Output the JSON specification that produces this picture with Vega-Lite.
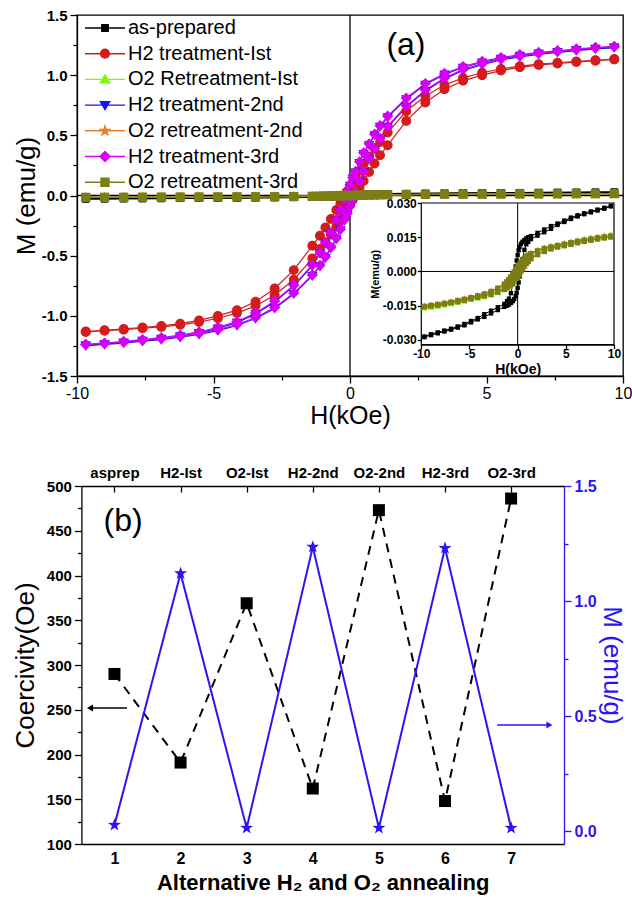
{
"$schema": "https://vega.github.io/schema/vega-lite/v6.json",
"padding": {"left": 12, "top": 7, "right": 2, "bottom": 2},
"background": "white",
"config": {
 "font": "Liberation Sans",
 "locale": {"number": {"decimal": ".", "thousands": ",", "grouping": [3], "currency": ["$", ""], "minus": "-"}},
 "view": {"stroke": "black", "strokeWidth": 1.3},
 "axis": {"grid": false, "labelFlush": false, "labelOverlap": false, "domainColor": "black", "tickColor": "black", "labelColor": "black", "titleColor": "black", "domainWidth": 1.3, "tickWidth": 1.3, "titleFontWeight": "normal", "labelFont": "Liberation Sans", "titleFont": "Liberation Sans"},
 "legend": {"labelFont": "Liberation Sans"}
},
"datasets": {
 "series": [{"s": "as-prepared"}, {"s": "H2 treatment-Ist"}, {"s": "O2 Retreatment-Ist"}, {"s": "H2 treatment-2nd"}, {"s": "O2 retreatment-2nd"}, {"s": "H2 treatment-3rd"}, {"s": "O2 retreatment-3rd"}],
 "bdat": [
  {"i": 1, "hc": 290, "m": 0.026}, {"i": 2, "hc": 191, "m": 1.12}, {"i": 3, "hc": 369, "m": 0.013}, {"i": 4, "hc": 162, "m": 1.235}, {"i": 5, "hc": 473, "m": 0.013}, {"i": 6, "hc": 148, "m": 1.23}, {"i": 7, "hc": 486, "m": 0.013}
 ],
 "loops": [
  {"h": -9.68, "b": "d", "s1": -0.0285, "s2": -1.130, "s3": -0.0159, "s4": -1.245, "s5": -0.0149, "s6": -1.237, "s7": -0.0153},
  {"h": -8.99, "b": "d", "s1": -0.0275, "s2": -1.120, "s3": -0.0155, "s4": -1.234, "s5": -0.0145, "s6": -1.226, "s7": -0.0149},
  {"h": -8.29, "b": "d", "s1": -0.0267, "s2": -1.109, "s3": -0.0151, "s4": -1.220, "s5": -0.0141, "s6": -1.212, "s7": -0.0145},
  {"h": -7.6, "b": "d", "s1": -0.0259, "s2": -1.097, "s3": -0.0146, "s4": -1.205, "s5": -0.0136, "s6": -1.197, "s7": -0.0140},
  {"h": -6.91, "b": "d", "s1": -0.0251, "s2": -1.084, "s3": -0.0140, "s4": -1.189, "s5": -0.0131, "s6": -1.181, "s7": -0.0135},
  {"h": -6.22, "b": "d", "s1": -0.0241, "s2": -1.065, "s3": -0.0133, "s4": -1.168, "s5": -0.0124, "s6": -1.160, "s7": -0.0128},
  {"h": -5.53, "b": "d", "s1": -0.0230, "s2": -1.038, "s3": -0.0127, "s4": -1.142, "s5": -0.0118, "s6": -1.134, "s7": -0.0122},
  {"h": -4.84, "b": "d", "s1": -0.0217, "s2": -1.000, "s3": -0.0120, "s4": -1.103, "s5": -0.0111, "s6": -1.095, "s7": -0.0115},
  {"h": -4.14, "b": "d", "s1": -0.0204, "s2": -0.953, "s3": -0.0111, "s4": -1.056, "s5": -0.0103, "s6": -1.048, "s7": -0.0107},
  {"h": -3.46, "b": "d", "s1": -0.0187, "s2": -0.882, "s3": -0.0103, "s4": -0.984, "s5": -0.0095, "s6": -0.976, "s7": -0.0099},
  {"h": -2.76, "b": "d", "s1": -0.0172, "s2": -0.773, "s3": -0.0092, "s4": -0.885, "s5": -0.0084, "s6": -0.877, "s7": -0.0088},
  {"h": -2.06, "b": "d", "s1": -0.0157, "s2": -0.620, "s3": -0.0077, "s4": -0.753, "s5": -0.0070, "s6": -0.745, "s7": -0.0074},
  {"h": -1.38, "b": "d", "s1": -0.0142, "s2": -0.417, "s3": -0.0058, "s4": -0.585, "s5": -0.0052, "s6": -0.577, "s7": -0.0056},
  {"h": -1.1, "b": "d", "s1": -0.0130, "s2": -0.335, "s3": -0.0047, "s4": -0.483, "s5": -0.0041, "s6": -0.475, "s7": -0.0045},
  {"h": -0.9, "b": "d", "s1": -0.0119, "s2": -0.265, "s3": -0.0036, "s4": -0.398, "s5": -0.0031, "s6": -0.390, "s7": -0.0035},
  {"h": -0.7, "b": "d", "s1": -0.0095, "s2": -0.195, "s3": -0.0025, "s4": -0.318, "s5": -0.0020, "s6": -0.310, "s7": -0.0024},
  {"h": -0.5, "b": "d", "s1": -0.0053, "s2": -0.120, "s3": -0.0012, "s4": -0.208, "s5": -0.0008, "s6": -0.200, "s7": -0.0012},
  {"h": -0.35, "b": "d", "s1": -0.0015, "s2": -0.065, "s3": -0.0003, "s4": -0.128, "s5": 0.0001, "s6": -0.120, "s7": -0.0003},
  {"h": -0.2, "b": "d", "s1": 0.0022, "s2": -0.005, "s3": 0.0006, "s4": -0.038, "s5": 0.0010, "s6": -0.030, "s7": 0.0006},
  {"h": -0.1, "b": "d", "s1": 0.0048, "s2": 0.035, "s3": 0.0012, "s4": 0.022, "s5": 0.0016, "s6": 0.030, "s7": 0.0012},
  {"h": 0, "b": "d", "s1": 0.0072, "s2": 0.072, "s3": 0.0019, "s4": 0.082, "s5": 0.0022, "s6": 0.090, "s7": 0.0018},
  {"h": 0.1, "b": "d", "s1": 0.0093, "s2": 0.110, "s3": 0.0026, "s4": 0.142, "s5": 0.0029, "s6": 0.150, "s7": 0.0025},
  {"h": 0.2, "b": "d", "s1": 0.0108, "s2": 0.150, "s3": 0.0032, "s4": 0.192, "s5": 0.0035, "s6": 0.200, "s7": 0.0031},
  {"h": 0.35, "b": "d", "s1": 0.0121, "s2": 0.205, "s3": 0.0041, "s4": 0.272, "s5": 0.0043, "s6": 0.280, "s7": 0.0039},
  {"h": 0.5, "b": "d", "s1": 0.0130, "s2": 0.260, "s3": 0.0049, "s4": 0.347, "s5": 0.0051, "s6": 0.355, "s7": 0.0047},
  {"h": 0.7, "b": "d", "s1": 0.0138, "s2": 0.325, "s3": 0.0058, "s4": 0.422, "s5": 0.0060, "s6": 0.430, "s7": 0.0056},
  {"h": 0.9, "b": "d", "s1": 0.0145, "s2": 0.390, "s3": 0.0067, "s4": 0.502, "s5": 0.0068, "s6": 0.510, "s7": 0.0064},
  {"h": 1.1, "b": "d", "s1": 0.0150, "s2": 0.445, "s3": 0.0074, "s4": 0.572, "s5": 0.0075, "s6": 0.580, "s7": 0.0071},
  {"h": 1.38, "b": "d", "s1": 0.0155, "s2": 0.523, "s3": 0.0081, "s4": 0.652, "s5": 0.0082, "s6": 0.660, "s7": 0.0078},
  {"h": 2.06, "b": "d", "s1": 0.0169, "s2": 0.700, "s3": 0.0094, "s4": 0.802, "s5": 0.0094, "s6": 0.810, "s7": 0.0090},
  {"h": 2.76, "b": "d", "s1": 0.0184, "s2": 0.827, "s3": 0.0104, "s4": 0.922, "s5": 0.0104, "s6": 0.930, "s7": 0.0100},
  {"h": 3.46, "b": "d", "s1": 0.0199, "s2": 0.918, "s3": 0.0111, "s4": 1.006, "s5": 0.0111, "s6": 1.014, "s7": 0.0107},
  {"h": 4.14, "b": "d", "s1": 0.0210, "s2": 0.977, "s3": 0.0118, "s4": 1.064, "s5": 0.0117, "s6": 1.072, "s7": 0.0113},
  {"h": 4.84, "b": "d", "s1": 0.0223, "s2": 1.020, "s3": 0.0124, "s4": 1.107, "s5": 0.0123, "s6": 1.115, "s7": 0.0119},
  {"h": 5.53, "b": "d", "s1": 0.0236, "s2": 1.052, "s3": 0.0131, "s4": 1.138, "s5": 0.0130, "s6": 1.146, "s7": 0.0126},
  {"h": 6.22, "b": "d", "s1": 0.0246, "s2": 1.075, "s3": 0.0137, "s4": 1.162, "s5": 0.0136, "s6": 1.170, "s7": 0.0132},
  {"h": 6.91, "b": "d", "s1": 0.0255, "s2": 1.092, "s3": 0.0142, "s4": 1.181, "s5": 0.0141, "s6": 1.189, "s7": 0.0137},
  {"h": 7.6, "b": "d", "s1": 0.0263, "s2": 1.103, "s3": 0.0148, "s4": 1.195, "s5": 0.0146, "s6": 1.203, "s7": 0.0142},
  {"h": 8.29, "b": "d", "s1": 0.0271, "s2": 1.115, "s3": 0.0153, "s4": 1.210, "s5": 0.0151, "s6": 1.218, "s7": 0.0147},
  {"h": 8.99, "b": "d", "s1": 0.0279, "s2": 1.124, "s3": 0.0157, "s4": 1.222, "s5": 0.0155, "s6": 1.230, "s7": 0.0151},
  {"h": 9.68, "b": "d", "s1": 0.0288, "s2": 1.134, "s3": 0.0161, "s4": 1.231, "s5": 0.0159, "s6": 1.239, "s7": 0.0155},
  {"h": -9.68, "b": "u", "s1": -0.0288, "s2": -1.134, "s3": -0.0161, "s4": -1.247, "s5": -0.0151, "s6": -1.239, "s7": -0.0155},
  {"h": -8.99, "b": "u", "s1": -0.0279, "s2": -1.124, "s3": -0.0157, "s4": -1.238, "s5": -0.0147, "s6": -1.230, "s7": -0.0151},
  {"h": -8.29, "b": "u", "s1": -0.0271, "s2": -1.115, "s3": -0.0153, "s4": -1.226, "s5": -0.0143, "s6": -1.218, "s7": -0.0147},
  {"h": -7.6, "b": "u", "s1": -0.0263, "s2": -1.103, "s3": -0.0148, "s4": -1.211, "s5": -0.0138, "s6": -1.203, "s7": -0.0142},
  {"h": -6.91, "b": "u", "s1": -0.0255, "s2": -1.092, "s3": -0.0142, "s4": -1.197, "s5": -0.0133, "s6": -1.189, "s7": -0.0137},
  {"h": -6.22, "b": "u", "s1": -0.0246, "s2": -1.075, "s3": -0.0137, "s4": -1.178, "s5": -0.0128, "s6": -1.170, "s7": -0.0132},
  {"h": -5.53, "b": "u", "s1": -0.0236, "s2": -1.052, "s3": -0.0131, "s4": -1.154, "s5": -0.0122, "s6": -1.146, "s7": -0.0126},
  {"h": -4.84, "b": "u", "s1": -0.0223, "s2": -1.020, "s3": -0.0124, "s4": -1.123, "s5": -0.0115, "s6": -1.115, "s7": -0.0119},
  {"h": -4.14, "b": "u", "s1": -0.0210, "s2": -0.977, "s3": -0.0118, "s4": -1.080, "s5": -0.0109, "s6": -1.072, "s7": -0.0113},
  {"h": -3.46, "b": "u", "s1": -0.0199, "s2": -0.918, "s3": -0.0111, "s4": -1.022, "s5": -0.0103, "s6": -1.014, "s7": -0.0107},
  {"h": -2.76, "b": "u", "s1": -0.0184, "s2": -0.827, "s3": -0.0104, "s4": -0.938, "s5": -0.0096, "s6": -0.930, "s7": -0.0100},
  {"h": -2.06, "b": "u", "s1": -0.0169, "s2": -0.700, "s3": -0.0094, "s4": -0.818, "s5": -0.0086, "s6": -0.810, "s7": -0.0090},
  {"h": -1.38, "b": "u", "s1": -0.0155, "s2": -0.523, "s3": -0.0081, "s4": -0.668, "s5": -0.0074, "s6": -0.660, "s7": -0.0078},
  {"h": -1.1, "b": "u", "s1": -0.0150, "s2": -0.445, "s3": -0.0074, "s4": -0.588, "s5": -0.0067, "s6": -0.580, "s7": -0.0071},
  {"h": -0.9, "b": "u", "s1": -0.0145, "s2": -0.390, "s3": -0.0067, "s4": -0.518, "s5": -0.0060, "s6": -0.510, "s7": -0.0064},
  {"h": -0.7, "b": "u", "s1": -0.0138, "s2": -0.325, "s3": -0.0058, "s4": -0.438, "s5": -0.0052, "s6": -0.430, "s7": -0.0056},
  {"h": -0.5, "b": "u", "s1": -0.0130, "s2": -0.260, "s3": -0.0049, "s4": -0.363, "s5": -0.0043, "s6": -0.355, "s7": -0.0047},
  {"h": -0.35, "b": "u", "s1": -0.0121, "s2": -0.205, "s3": -0.0041, "s4": -0.288, "s5": -0.0035, "s6": -0.280, "s7": -0.0039},
  {"h": -0.2, "b": "u", "s1": -0.0108, "s2": -0.150, "s3": -0.0032, "s4": -0.208, "s5": -0.0027, "s6": -0.200, "s7": -0.0031},
  {"h": -0.1, "b": "u", "s1": -0.0093, "s2": -0.110, "s3": -0.0026, "s4": -0.158, "s5": -0.0021, "s6": -0.150, "s7": -0.0025},
  {"h": 0, "b": "u", "s1": -0.0072, "s2": -0.072, "s3": -0.0019, "s4": -0.098, "s5": -0.0014, "s6": -0.090, "s7": -0.0018},
  {"h": 0.1, "b": "u", "s1": -0.0048, "s2": -0.035, "s3": -0.0012, "s4": -0.038, "s5": -0.0008, "s6": -0.030, "s7": -0.0012},
  {"h": 0.2, "b": "u", "s1": -0.0022, "s2": 0.005, "s3": -0.0006, "s4": 0.022, "s5": -0.0002, "s6": 0.030, "s7": -0.0006},
  {"h": 0.35, "b": "u", "s1": 0.0015, "s2": 0.065, "s3": 0.0003, "s4": 0.112, "s5": 0.0007, "s6": 0.120, "s7": 0.0003},
  {"h": 0.5, "b": "u", "s1": 0.0053, "s2": 0.120, "s3": 0.0012, "s4": 0.192, "s5": 0.0016, "s6": 0.200, "s7": 0.0012},
  {"h": 0.7, "b": "u", "s1": 0.0095, "s2": 0.195, "s3": 0.0025, "s4": 0.302, "s5": 0.0028, "s6": 0.310, "s7": 0.0024},
  {"h": 0.9, "b": "u", "s1": 0.0119, "s2": 0.265, "s3": 0.0036, "s4": 0.382, "s5": 0.0039, "s6": 0.390, "s7": 0.0035},
  {"h": 1.1, "b": "u", "s1": 0.0130, "s2": 0.335, "s3": 0.0047, "s4": 0.467, "s5": 0.0049, "s6": 0.475, "s7": 0.0045},
  {"h": 1.38, "b": "u", "s1": 0.0142, "s2": 0.417, "s3": 0.0058, "s4": 0.569, "s5": 0.0060, "s6": 0.577, "s7": 0.0056},
  {"h": 2.06, "b": "u", "s1": 0.0157, "s2": 0.620, "s3": 0.0077, "s4": 0.737, "s5": 0.0078, "s6": 0.745, "s7": 0.0074},
  {"h": 2.76, "b": "u", "s1": 0.0172, "s2": 0.773, "s3": 0.0092, "s4": 0.869, "s5": 0.0092, "s6": 0.877, "s7": 0.0088},
  {"h": 3.46, "b": "u", "s1": 0.0187, "s2": 0.882, "s3": 0.0103, "s4": 0.968, "s5": 0.0103, "s6": 0.976, "s7": 0.0099},
  {"h": 4.14, "b": "u", "s1": 0.0204, "s2": 0.953, "s3": 0.0111, "s4": 1.040, "s5": 0.0111, "s6": 1.048, "s7": 0.0107},
  {"h": 4.84, "b": "u", "s1": 0.0217, "s2": 1.000, "s3": 0.0120, "s4": 1.087, "s5": 0.0117, "s6": 1.095, "s7": 0.0113},
  {"h": 5.53, "b": "u", "s1": 0.0230, "s2": 1.038, "s3": 0.0127, "s4": 1.126, "s5": 0.0123, "s6": 1.134, "s7": 0.0119},
  {"h": 6.22, "b": "u", "s1": 0.0241, "s2": 1.065, "s3": 0.0133, "s4": 1.152, "s5": 0.0130, "s6": 1.160, "s7": 0.0126},
  {"h": 6.91, "b": "u", "s1": 0.0251, "s2": 1.084, "s3": 0.0140, "s4": 1.173, "s5": 0.0136, "s6": 1.181, "s7": 0.0132},
  {"h": 7.6, "b": "u", "s1": 0.0259, "s2": 1.097, "s3": 0.0146, "s4": 1.189, "s5": 0.0141, "s6": 1.197, "s7": 0.0137},
  {"h": 8.29, "b": "u", "s1": 0.0267, "s2": 1.109, "s3": 0.0151, "s4": 1.204, "s5": 0.0146, "s6": 1.212, "s7": 0.0142},
  {"h": 8.99, "b": "u", "s1": 0.0275, "s2": 1.120, "s3": 0.0155, "s4": 1.218, "s5": 0.0151, "s6": 1.226, "s7": 0.0147},
  {"h": 9.68, "b": "u", "s1": 0.0285, "s2": 1.130, "s3": 0.0159, "s4": 1.229, "s5": 0.0155, "s6": 1.237, "s7": 0.0151}
 ]
},
"bounds": "flush",
"spacing": 110,
"vconcat": [
 {
  "width": 546, "height": 361,
  "layer": [
   {"data": {"values": [{}]}, "mark": {"type": "rule", "color": "black", "strokeWidth": 1.3},
    "encoding": {"x": {"datum": 0, "type": "quantitative", "scale": {"domain": [-10, 10], "nice": false, "zero": false}, "axis": null}}},
   {"data": {"values": [{}]}, "mark": {"type": "rule", "color": "black", "strokeWidth": 1.3},
    "encoding": {"y": {"datum": 0, "type": "quantitative", "scale": {"domain": [-1.5, 1.5], "nice": false, "zero": false}, "axis": null}}},
   {"data": {"name": "loops"}, "transform": [{"fold": ["s1", "s2", "s3", "s4", "s5", "s6", "s7"], "as": ["key", "val"]}],
    "mark": {"type": "line", "strokeWidth": 1.2, "clip": true},
    "encoding": {
     "x": {"field": "h", "type": "quantitative", "scale": {"domain": [-10, 10], "nice": false, "zero": false},
           "axis": {"orient": "bottom", "values": [-10, -5, 0, 5, 10], "labelFontSize": 16, "tickSize": 7, "labelPadding": 2, "title": "H(kOe)", "titleFontSize": 25, "titlePadding": 2}},
     "y": {"field": "val", "type": "quantitative", "scale": {"domain": [-1.5, 1.5], "nice": false, "zero": false},
           "axis": {"orient": "left", "values": [-1.5, -1, -0.5, 0, 0.5, 1, 1.5], "format": ".1f", "labelFontSize": 15, "labelFontWeight": "bold", "tickSize": 7, "labelPadding": 3, "title": "M (emu/g)", "titleFontSize": 26, "titlePadding": 2}},
     "color": {"field": "key", "type": "nominal", "scale": {"domain": ["s1", "s2", "s3", "s4", "s5", "s6", "s7"], "range": ["#000000", "#d41c1c", "#7cfc00", "#1414f0", "#e8802a", "#d600f5", "#7d7d16"]}, "legend": null},
     "detail": {"field": "b"}
    }},
   {"data": {"name": "loops"}, "transform": [{"fold": ["s1", "s2", "s3", "s4", "s5", "s6", "s7"], "as": ["key", "val"]}],
    "mark": {"type": "point", "filled": true, "opacity": 1, "size": 81, "clip": true},
    "encoding": {
     "x": {"field": "h", "type": "quantitative", "scale": {"domain": [-10, 10], "nice": false, "zero": false}, "axis": {"orient": "bottom", "values": [-7.5, -2.5, 2.5, 7.5], "labels": false, "domain": false, "tickSize": 4, "title": null}},
     "y": {"field": "val", "type": "quantitative", "scale": {"domain": [-1.5, 1.5], "nice": false, "zero": false}, "axis": {"orient": "left", "values": [-1.25, -0.75, -0.25, 0.25, 0.75, 1.25], "labels": false, "domain": false, "tickSize": 4, "title": null}},
     "color": {"field": "key", "type": "nominal", "legend": null},
     "shape": {"field": "key", "type": "nominal", "legend": null, "scale": {"domain": ["s1", "s2", "s3", "s4", "s5", "s6", "s7"], "range": [
       "M-0.8,-0.8L0.8,-0.8L0.8,0.8L-0.8,0.8Z",
       "M1.1,0A1.1,1.1,0,1,1,-1.1,0A1.1,1.1,0,1,1,1.1,0Z",
       "M0,-1.15L1.15,0.85L-1.15,0.85Z",
       "M0,1.15L1.15,-0.85L-1.15,-0.85Z",
       "M0,-1.2L0.28,-0.38L1.14,-0.37L0.45,0.15L0.7,0.97L0,0.47L-0.7,0.97L-0.45,0.15L-1.14,-0.37L-0.28,-0.38Z",
       "M0,-1.25L1.25,0L0,1.25L-1.25,0Z",
       "M-1,-1L1,-1L1,1L-1,1Z"]}},
     "order": {"field": "key", "type": "ordinal"}
    }},
   {"data": {"name": "series"}, "transform": [{"filter": "false"}],
    "mark": {"type": "point", "filled": true, "opacity": 1, "size": 64, "strokeWidth": 1.4},
    "encoding": {
     "fill": {"field": "s", "type": "nominal", "scale": {"domain": ["as-prepared", "H2 treatment-Ist", "O2 Retreatment-Ist", "H2 treatment-2nd", "O2 retreatment-2nd", "H2 treatment-3rd", "O2 retreatment-3rd"], "range": ["#000000", "#d41c1c", "#7cfc00", "#1414f0", "#e8802a", "#d600f5", "#7d7d16"]},
              "legend": {"orient": "none", "legendX": 18, "legendY": 3, "title": null, "labelFontSize": 20, "labelOffset": 13, "rowPadding": 5.7, "symbolSize": 64, "symbolStrokeWidth": 1.4, "labelColor": "black", "padding": 0, "labelLimit": 400}},
     "stroke": {"field": "s", "type": "nominal", "scale": {"domain": ["as-prepared", "H2 treatment-Ist", "O2 Retreatment-Ist", "H2 treatment-2nd", "O2 retreatment-2nd", "H2 treatment-3rd", "O2 retreatment-3rd"], "range": ["#000000", "#d41c1c", "#7cfc00", "#1414f0", "#e8802a", "#d600f5", "#7d7d16"]},
              "legend": {"orient": "none", "legendX": 18, "legendY": 3, "title": null, "labelFontSize": 20, "labelOffset": 13, "rowPadding": 5.7, "symbolSize": 64, "symbolStrokeWidth": 1.4, "labelColor": "black", "padding": 0, "labelLimit": 400}},
     "shape": {"field": "s", "type": "nominal", "scale": {"domain": ["as-prepared", "H2 treatment-Ist", "O2 Retreatment-Ist", "H2 treatment-2nd", "O2 retreatment-2nd", "H2 treatment-3rd", "O2 retreatment-3rd"], "range": [
       "M-5,0L5,0M-0.8,-0.8L0.8,-0.8L0.8,0.8L-0.8,0.8Z",
       "M-5,0L5,0M1.1,0A1.1,1.1,0,1,1,-1.1,0A1.1,1.1,0,1,1,1.1,0Z",
       "M-5,0L5,0M0,-1.15L1.15,0.85L-1.15,0.85Z",
       "M-5,0L5,0M0,1.15L1.15,-0.85L-1.15,-0.85Z",
       "M-5,0L5,0M0,-1.2L0.28,-0.38L1.14,-0.37L0.45,0.15L0.7,0.97L0,0.47L-0.7,0.97L-0.45,0.15L-1.14,-0.37L-0.28,-0.38Z",
       "M-5,0L5,0M0,-1.25L1.25,0L0,1.25L-1.25,0Z",
       "M-5,0L5,0M-1,-1L1,-1L1,1L-1,1Z"]},
              "legend": {"orient": "none", "legendX": 18, "legendY": 3, "title": null, "labelFontSize": 20, "labelOffset": 13, "rowPadding": 5.7, "symbolSize": 64, "symbolStrokeWidth": 1.4, "labelColor": "black", "padding": 0, "labelLimit": 400}}
    }},
   {"data": {"values": [{}]}, "mark": {"type": "text", "text": "(a)", "fontSize": 32, "font": "Liberation Sans", "color": "black"},
    "encoding": {"x": {"datum": 2.05, "type": "quantitative", "scale": {"domain": [-10, 10], "nice": false, "zero": false}, "axis": null}, "y": {"datum": 1.25, "type": "quantitative", "scale": {"domain": [-1.5, 1.5], "nice": false, "zero": false}, "axis": null}}},
   {"data": {"values": [{}]}, "mark": {"type": "rect", "fill": "white", "stroke": "black", "strokeWidth": 1.2},
    "encoding": {
     "x": {"datum": -10, "type": "quantitative", "scale": {"domain": [-10, 10], "range": [344.3, 537], "nice": false, "zero": false},
           "axis": {"orient": "bottom", "offset": -31.5, "values": [-10, -5, 0, 5, 10], "labelFontSize": 12, "labelFontWeight": "bold", "tickSize": 4, "labelPadding": 0, "title": "H(kOe)", "titleFontSize": 14, "titleFontWeight": "bold", "titlePadding": 3}},
     "x2": {"datum": 10},
     "y": {"datum": -0.032, "type": "quantitative", "scale": {"domain": [-0.032, 0.03], "range": [329.5, 188], "nice": false, "zero": false},
           "axis": {"orient": "left", "offset": -344.3, "values": [-0.03, -0.015, 0, 0.015, 0.03], "format": ".3f", "labelFontSize": 12, "labelFontWeight": "bold", "tickSize": 4, "labelPadding": 1, "title": "M(emu/g)", "titleFontSize": 11, "titleFontWeight": "bold", "titlePadding": 2}},
     "y2": {"datum": 0.03}
    }},
   {"data": {"values": [{}]}, "mark": {"type": "rule", "color": "black", "strokeWidth": 1},
    "encoding": {
     "x": {"datum": 0, "type": "quantitative", "scale": {"domain": [-10, 10], "range": [344.3, 537], "nice": false, "zero": false}, "axis": null},
     "y": {"datum": -0.032, "type": "quantitative", "scale": {"domain": [-0.032, 0.03], "range": [329.5, 188], "nice": false, "zero": false}, "axis": null},
     "y2": {"datum": 0.03}}},
   {"data": {"values": [{}]}, "mark": {"type": "rule", "color": "black", "strokeWidth": 1},
    "encoding": {
     "y": {"datum": 0, "type": "quantitative", "scale": {"domain": [-0.032, 0.03], "range": [329.5, 188], "nice": false, "zero": false}, "axis": null},
     "x": {"datum": -10, "type": "quantitative", "scale": {"domain": [-10, 10], "range": [344.3, 537], "nice": false, "zero": false}, "axis": null},
     "x2": {"datum": 10}}},
   {"data": {"name": "loops"}, "transform": [{"fold": ["s1", "s3", "s5", "s7"], "as": ["key", "val"]}],
    "mark": {"type": "line", "strokeWidth": 1},
    "encoding": {
     "x": {"field": "h", "type": "quantitative", "scale": {"domain": [-10, 10], "range": [344.3, 537], "nice": false, "zero": false}, "axis": null},
     "y": {"field": "val", "type": "quantitative", "scale": {"domain": [-0.032, 0.03], "range": [329.5, 188], "nice": false, "zero": false}, "axis": null},
     "color": {"field": "key", "type": "nominal", "legend": null},
     "detail": {"field": "b"}
    }},
   {"data": {"name": "loops"}, "transform": [{"fold": ["s1", "s3", "s5", "s7"], "as": ["key", "val"]}],
    "mark": {"type": "point", "filled": true, "opacity": 1, "size": 30},
    "encoding": {
     "x": {"field": "h", "type": "quantitative", "scale": {"domain": [-10, 10], "range": [344.3, 537], "nice": false, "zero": false}, "axis": null},
     "y": {"field": "val", "type": "quantitative", "scale": {"domain": [-0.032, 0.03], "range": [329.5, 188], "nice": false, "zero": false}, "axis": null},
     "color": {"field": "key", "type": "nominal", "legend": null},
     "shape": {"field": "key", "type": "nominal", "legend": null, "scale": {"domain": ["s1", "s2", "s3", "s4", "s5", "s6", "s7"], "range": [
       "M-0.8,-0.8L0.8,-0.8L0.8,0.8L-0.8,0.8Z",
       "M1.1,0A1.1,1.1,0,1,1,-1.1,0A1.1,1.1,0,1,1,1.1,0Z",
       "M0,-1.15L1.15,0.85L-1.15,0.85Z",
       "M0,1.15L1.15,-0.85L-1.15,-0.85Z",
       "M0,-1.2L0.28,-0.38L1.14,-0.37L0.45,0.15L0.7,0.97L0,0.47L-0.7,0.97L-0.45,0.15L-1.14,-0.37L-0.28,-0.38Z",
       "M0,-1.25L1.25,0L0,1.25L-1.25,0Z",
       "M-1,-1L1,-1L1,1L-1,1Z"]}},
     "order": {"field": "key", "type": "ordinal"}
    }}
  ],
  "resolve": {"scale": {"x": "independent", "y": "independent", "shape": "independent", "fill": "independent", "stroke": "independent"}}
 },
 {
  "width": 487, "height": 358,
  "view": {"stroke": null},
  "data": {"name": "bdat"},
  "layer": [
   {
    "layer": [
     {"mark": {"type": "line", "color": "black", "strokeWidth": 2, "strokeDash": [9, 7]},
      "encoding": {
       "x": {"field": "i", "type": "quantitative", "scale": {"domain": [0.5, 7.8], "range": [4.4, 487], "nice": false, "zero": false},
             "axis": {"orient": "bottom", "values": [1, 2, 3, 4, 5, 6, 7], "format": "d", "labelFontSize": 16, "labelFontWeight": "bold", "ticks": false, "labelPadding": 6, "title": "Alternative H₂ and O₂ annealing", "titleFontSize": 22, "titleFontWeight": "bold", "titlePadding": 6}},
       "y": {"field": "hc", "type": "quantitative", "scale": {"domain": [100, 500], "nice": false, "zero": false},
             "axis": {"orient": "left", "offset": -4.4, "values": [100, 150, 200, 250, 300, 350, 400, 450, 500], "labelFontSize": 15, "labelFontWeight": "bold", "tickSize": 7, "labelPadding": 3, "title": "Coercivity(Oe)", "titleFontSize": 26, "titlePadding": 8}}
      }},
     {"mark": {"type": "point", "shape": "square", "filled": true, "color": "black", "size": 144, "opacity": 1},
      "encoding": {
       "x": {"field": "i", "type": "quantitative", "axis": {"orient": "top", "values": [1, 2, 3, 4, 5, 6, 7], "labelExpr": "['asprep','H2-Ist','O2-Ist','H2-2nd','O2-2nd','H2-3rd','O2-3rd'][datum.value-1]", "labelFontSize": 15, "labelFontWeight": "bold", "tickSize": -6, "labelPadding": 12, "title": null}},
       "y": {"field": "hc", "type": "quantitative", "axis": {"orient": "left", "offset": -4.4, "values": [125, 175, 225, 275, 325, 375, 425, 475], "labels": false, "domain": false, "tickSize": 4, "title": null}}
      }},
     {"data": {"values": [{}]}, "mark": {"type": "rule", "color": "black", "strokeWidth": 1.5},
      "encoding": {"x": {"datum": 0.65, "type": "quantitative", "axis": null}, "x2": {"datum": 1.19}, "y": {"datum": 252, "type": "quantitative", "axis": null}}},
     {"data": {"values": [{}]}, "mark": {"type": "point", "shape": "triangle-left", "filled": true, "color": "black", "size": 50, "opacity": 1},
      "encoding": {"x": {"datum": 0.63, "type": "quantitative", "axis": null}, "y": {"datum": 252, "type": "quantitative", "axis": null}}},
     {"data": {"values": [{}]}, "mark": {"type": "text", "text": "(b)", "fontSize": 32, "font": "Liberation Sans", "color": "black"},
      "encoding": {"x": {"datum": 1.13, "type": "quantitative", "axis": null}, "y": {"datum": 461, "type": "quantitative", "axis": null}}}
    ],
    "resolve": {"axis": {"x": "independent", "y": "independent"}}
   },
   {
    "layer": [
     {"mark": {"type": "line", "color": "#2d13f5", "strokeWidth": 2},
      "encoding": {
       "x": {"field": "i", "type": "quantitative", "axis": null},
       "y": {"field": "m", "type": "quantitative", "scale": {"domain": [-0.0565, 1.5], "nice": false, "zero": false},
             "axis": {"orient": "right", "values": [0, 0.5, 1, 1.5], "format": ".1f", "labelFontSize": 16, "labelFontWeight": "bold", "tickSize": 7, "labelPadding": 3, "title": "M (emu/g)", "titleFontSize": 26, "titlePadding": 2, "domainColor": "#2d13f5", "tickColor": "#2d13f5", "labelColor": "#2d13f5", "titleColor": "#2d13f5"}}
      }},
     {"mark": {"type": "point", "shape": "M0,-1.15L0.265,-0.364L1.094,-0.355L0.428,0.139L0.676,0.93L0,0.45L-0.676,0.93L-0.428,0.139L-1.094,-0.355L-0.265,-0.364Z", "filled": true, "color": "#2d13f5", "size": 140, "opacity": 1},
      "encoding": {
       "x": {"field": "i", "type": "quantitative", "axis": null},
       "y": {"field": "m", "type": "quantitative", "axis": {"orient": "right", "values": [0.25, 0.75, 1.25], "labels": false, "domain": false, "tickSize": 4, "tickColor": "#2d13f5", "title": null}}
      }},
     {"data": {"values": [{}]}, "mark": {"type": "rule", "color": "#2d13f5", "strokeWidth": 1.5},
      "encoding": {"x": {"datum": 6.79, "type": "quantitative", "axis": null}, "x2": {"datum": 7.56}, "y": {"datum": 0.461, "type": "quantitative", "axis": null}}},
     {"data": {"values": [{}]}, "mark": {"type": "point", "shape": "triangle-right", "filled": true, "color": "#2d13f5", "size": 50, "opacity": 1},
      "encoding": {"x": {"datum": 7.58, "type": "quantitative", "axis": null}, "y": {"datum": 0.461, "type": "quantitative", "axis": null}}}
    ],
    "resolve": {"axis": {"y": "independent"}}
   }
  ],
  "resolve": {"scale": {"y": "independent"}, "axis": {"x": "independent"}}
 }
]
}
